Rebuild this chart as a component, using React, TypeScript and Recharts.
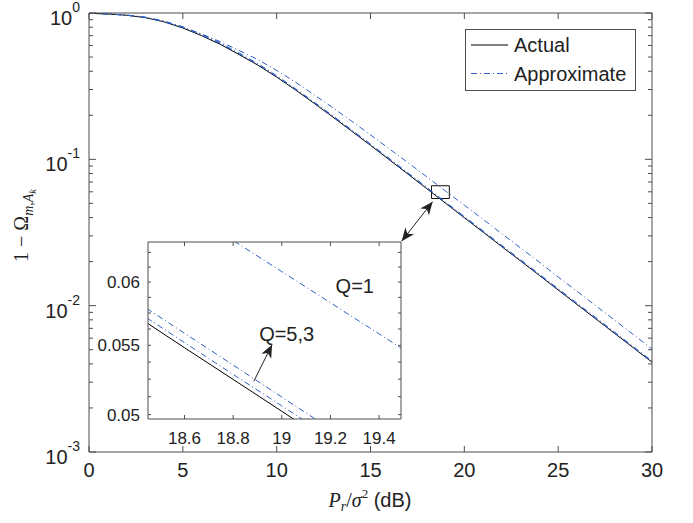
import React from "react";
import {
  LineChart,
  Line,
  XAxis,
  YAxis,
  ReferenceArea,
  ReferenceLine,
  ReferenceDot,
  CartesianGrid,
} from "recharts";

// main plot: P_r/sigma^2 (dB) vs 1 - Omega
const snrDb = [
  0, 1, 2, 3, 4, 5, 6, 7, 8, 9, 10, 11, 12, 13, 14, 15, 16, 17, 18, 19, 20, 21,
  22, 23, 24, 25, 26, 27, 28, 29, 30,
];
const actual = [
  0.995, 0.985, 0.965, 0.93, 0.87, 0.79, 0.7, 0.61, 0.52, 0.44, 0.365, 0.2981,
  0.2412, 0.1943, 0.1557, 0.1246, 0.0994, 0.0792, 0.063, 0.0501, 0.0399, 0.0318,
  0.0253, 0.0202, 0.0161, 0.0128, 0.0102, 0.00813, 0.00648, 0.00516, 0.00411,
];
const approxQ1 = [
  0.996, 0.987, 0.968, 0.935, 0.877, 0.798, 0.718, 0.637, 0.554, 0.48, 0.405,
  0.337, 0.276, 0.225, 0.182, 0.147, 0.118, 0.0949, 0.0759, 0.0607, 0.0486,
  0.0389, 0.031, 0.0248, 0.0198, 0.0157, 0.01255, 0.01, 0.00797, 0.00635, 0.00506,
];
const approxQ3 = [
  0.996, 0.986, 0.968, 0.937, 0.881, 0.806, 0.716, 0.625, 0.533, 0.451, 0.373,
  0.3043, 0.2462, 0.1983, 0.1589, 0.1271, 0.1014, 0.0808, 0.0643, 0.0511, 0.0407,
  0.03244, 0.0258, 0.0206, 0.01642, 0.01306, 0.0104, 0.0083, 0.00661, 0.00526,
  0.00419,
];
const approxQ5 = [
  0.995, 0.985, 0.966, 0.932, 0.874, 0.796, 0.707, 0.617, 0.526, 0.445, 0.369,
  0.3012, 0.2436, 0.1962, 0.1572, 0.1258, 0.1003, 0.0799, 0.0636, 0.0505, 0.0402,
  0.03205, 0.0255, 0.02036, 0.01623, 0.0129, 0.01028, 0.0082, 0.00653, 0.0052,
  0.00414,
];

// zoomed inset
const zoomSnr = [18.4, 18.6, 18.8, 19.0, 19.2, 19.4, 19.6];
const zoomActual = [0.0573, 0.05482, 0.05248, 0.05023, 0.04806, 0.046, 0.044];
const zoomQ5 = [0.05768, 0.05521, 0.05284, 0.05061, 0.04844, 0.04636, 0.04437];
const zoomQ3 = [0.05844, 0.05592, 0.05353, 0.05122, 0.04903, 0.04691, 0.0449];
const zoomQ1 = [0.06926, 0.06633, 0.06353, 0.06087, 0.05832, 0.05587, 0.05352];

const xTicks = [0, 5, 10, 15, 20, 25, 30];
const yDecades = [0.001, 0.01, 0.1, 1];
const yDecadeExp = ["-3", "-2", "-1", "0"];
const yMinor = [
  0.002, 0.003, 0.004, 0.005, 0.006, 0.007, 0.008, 0.009, 0.02, 0.03, 0.04,
  0.05, 0.06, 0.07, 0.08, 0.09, 0.2, 0.3, 0.4, 0.5, 0.6, 0.7, 0.8, 0.9,
];
const zoomXTicks = [18.6, 18.8, 19, 19.2, 19.4];
const zoomYTicks = [
  0.05, 0.05125, 0.0525, 0.05375, 0.055, 0.05625, 0.0575, 0.05875, 0.06,
  0.06125, 0.0625,
];
const zoomYLabels = [0.05, 0.055, 0.06];
const legendLabels = ["Actual", "Approximate"];

const mainData = snrDb.map((x, i) => ({
  x,
  actual: actual[i],
  q1: approxQ1[i],
  q3: approxQ3[i],
  q5: approxQ5[i],
}));
const zoomData = zoomSnr.map((x, i) => ({
  x,
  actual: zoomActual[i],
  q1: zoomQ1[i],
  q3: zoomQ3[i],
  q5: zoomQ5[i],
}));

const SANS = "'Liberation Sans', Arial, Helvetica, sans-serif";
const SERIF = "'Liberation Serif', 'Times New Roman', serif";
const AXIS = "#4d4d4d";
const TEXT = "#222";
const BLUE = "#2f5fc4";
const DASH = "6 3 1 3";

const isIn = (list: number[], v: number) => list.some((t) => Math.abs(t - v) < 1e-9);

function arrowHead(x: number, y: number, fx: number, fy: number, len = 13, half = 5.5) {
  const d = Math.hypot(x - fx, y - fy) || 1;
  const ux = (x - fx) / d;
  const uy = (y - fy) / d;
  const bx = x - ux * len;
  const by = y - uy * len;
  const nx = x - ux * len * 0.72;
  const ny = y - uy * len * 0.72;
  return `${x},${y} ${bx - uy * half},${by + ux * half} ${nx},${ny} ${bx + uy * half},${by - ux * half}`;
}

const DoubleArrow = (p: any) => (
  <g>
    <line x1={p.x1} y1={p.y1} x2={p.x2} y2={p.y2} stroke={TEXT} strokeWidth={1} />
    <polygon points={arrowHead(p.x1, p.y1, p.x2, p.y2)} fill={TEXT} />
    <polygon points={arrowHead(p.x2, p.y2, p.x1, p.y1)} fill={TEXT} />
  </g>
);

const SingleArrow = (p: any) => (
  <g>
    <line x1={p.x1} y1={p.y1} x2={p.x2} y2={p.y2} stroke={TEXT} strokeWidth={1} />
    <polygon points={arrowHead(p.x2, p.y2, p.x1, p.y1)} fill={TEXT} />
  </g>
);

// ---- main axis ticks ----
const MainXTick = (p: any) => (
  <g>
    <line x1={p.x} x2={p.x} y1={p.y} y2={p.y - 6} stroke={AXIS} />
    <text x={p.x} y={p.y + 25} textAnchor="middle" fontSize={20} fontFamily={SANS} fill={TEXT}>
      {p.payload.value}
    </text>
  </g>
);
const MainTopTick = (p: any) => (
  <line x1={p.x} x2={p.x} y1={p.y} y2={p.y + 6} stroke={AXIS} />
);
const MainYTick = (p: any) => {
  const v = p.payload.value;
  const k = yDecades.findIndex((t) => Math.abs(t - v) < 1e-12);
  const len = k >= 0 ? 7 : 4;
  return (
    <g>
      <line x1={p.x} x2={p.x + len} y1={p.y} y2={p.y} stroke={AXIS} />
      {k >= 0 && (
        <text x={p.x - 9} y={p.y + 12} textAnchor="end" fontSize={20} fontFamily={SANS} fill={TEXT}>
          10
          <tspan dy={-13} fontSize={14}>
            {yDecadeExp[k]}
          </tspan>
        </text>
      )}
    </g>
  );
};
const MainRightTick = (p: any) => {
  const major = isIn(yDecades, p.payload.value);
  return <line x1={p.x} x2={p.x - (major ? 7 : 4)} y1={p.y} y2={p.y} stroke={AXIS} />;
};

// ---- inset ticks ----
const ZoomXTick = (p: any) => (
  <g>
    <line x1={p.x} x2={p.x} y1={p.y} y2={p.y - 4} stroke={AXIS} />
    <text x={p.x} y={p.y + 25} textAnchor="middle" fontSize={17} fontFamily={SANS} fill={TEXT}>
      {p.payload.value}
    </text>
  </g>
);
const ZoomTopTick = (p: any) => (
  <line x1={p.x} x2={p.x} y1={p.y} y2={p.y + 4} stroke={AXIS} />
);
const ZoomYTick = (p: any) => {
  const v = p.payload.value;
  return (
    <g>
      <line x1={p.x} x2={p.x + 3} y1={p.y} y2={p.y} stroke={AXIS} />
      {isIn(zoomYLabels, v) && (
        <text x={p.x - 8} y={p.y + 6} textAnchor="end" fontSize={17} fontFamily={SANS} fill={TEXT}>
          {v}
        </text>
      )}
    </g>
  );
};
const ZoomRightTick = (p: any) => (
  <line x1={p.x} x2={p.x - 3} y1={p.y} y2={p.y} stroke={AXIS} />
);

const YTitle = () => (
  <text
    x={28}
    y={262}
    transform="rotate(-90 28 262)"
    textAnchor="start"
    fontFamily={SERIF}
    fontSize={20}
    fill={TEXT}
  >
    1 − Ω
    <tspan fontStyle="italic" fontSize={14} dy={5}>
      m
    </tspan>
    <tspan fontSize={14}>,</tspan>
    <tspan fontStyle="italic" fontSize={14}>
      A
    </tspan>
    <tspan fontStyle="italic" fontSize={10} dy={3}>
      k
    </tspan>
  </text>
);

const XTitle = () => (
  <text x={370} y={507} textAnchor="middle" fontSize={20} fill={TEXT}>
    <tspan fontFamily={SERIF} fontStyle="italic">
      P
    </tspan>
    <tspan fontFamily={SERIF} fontStyle="italic" fontSize={14} dy={4}>
      r
    </tspan>
    <tspan fontFamily={SERIF} dy={-4}>
      /
    </tspan>
    <tspan fontFamily={SERIF} fontStyle="italic">
      σ
    </tspan>
    <tspan fontFamily={SERIF} fontSize={13} dy={-9}>
      2
    </tspan>
    <tspan fontFamily={SANS} dy={9}>
      {" (dB)"}
    </tspan>
  </text>
);

const TextAt = (label: string) => (p: any) => (
  <text x={p.cx} y={p.cy} dy="0.35em" textAnchor="middle" fontSize={20} fontFamily={SANS} fill={TEXT}>
    {label}
  </text>
);

function MainChart() {
  return (
    <LineChart
      width={693}
      height={523}
      data={mainData}
      margin={{ top: 12, right: 40, bottom: 31, left: 29 }}
    >
      <XAxis
        xAxisId="b"
        dataKey="x"
        type="number"
        domain={[0, 30]}
        ticks={xTicks}
        interval={0}
        height={40}
        tickSize={0}
        tickMargin={0}
        tickLine={false}
        axisLine={{ stroke: AXIS }}
        tick={(p: any) => <MainXTick {...p} />}
        label={<XTitle />}
      />
      <XAxis
        xAxisId="t"
        orientation="top"
        dataKey="x"
        type="number"
        domain={[0, 30]}
        ticks={xTicks}
        interval={0}
        height={1}
        tickSize={0}
        tickMargin={0}
        tickLine={false}
        axisLine={{ stroke: AXIS }}
        tick={(p: any) => <MainTopTick {...p} />}
      />
      <YAxis
        yAxisId="l"
        type="number"
        scale="log"
        domain={[0.001, 1]}
        allowDataOverflow
        ticks={[...yDecades, ...yMinor]}
        interval={0}
        width={60}
        tickSize={0}
        tickMargin={0}
        tickLine={false}
        axisLine={{ stroke: AXIS }}
        tick={(p: any) => <MainYTick {...p} />}
        label={<YTitle />}
      />
      <YAxis
        yAxisId="r"
        orientation="right"
        type="number"
        scale="log"
        domain={[0.001, 1]}
        allowDataOverflow
        ticks={[...yDecades, ...yMinor]}
        interval={0}
        width={1}
        tickSize={0}
        tickMargin={0}
        tickLine={false}
        axisLine={{ stroke: AXIS }}
        tick={(p: any) => <MainRightTick {...p} />}
      />
      <Line xAxisId="b" yAxisId="l" dataKey="actual" stroke="#000" strokeWidth={1} dot={false} isAnimationActive={false} />
      <Line xAxisId="b" yAxisId="l" dataKey="q1" stroke={BLUE} strokeWidth={1} strokeDasharray={DASH} dot={false} isAnimationActive={false} />
      <Line xAxisId="b" yAxisId="l" dataKey="q3" stroke={BLUE} strokeWidth={1} strokeDasharray={DASH} dot={false} isAnimationActive={false} />
      <Line xAxisId="b" yAxisId="l" dataKey="q5" stroke={BLUE} strokeWidth={1} strokeDasharray={DASH} dot={false} isAnimationActive={false} />
      <ReferenceArea
        xAxisId="b"
        yAxisId="l"
        x1={18.25}
        x2={19.2}
        y1={0.054}
        y2={0.066}
        fill="none"
        stroke="#111"
        strokeWidth={1}
        ifOverflow="visible"
      />
      <ReferenceLine
        xAxisId="b"
        yAxisId="l"
        segment={[
          { x: 18.31, y: 0.0513 },
          { x: 16.66, y: 0.0276 },
        ]}
        ifOverflow="visible"
        shape={(p: any) => <DoubleArrow {...p} />}
      />
    </LineChart>
  );
}

function ZoomChart() {
  return (
    <LineChart
      width={323}
      height={217}
      data={zoomData}
      margin={{ top: 9, right: 9, bottom: 0, left: 0 }}
    >
      <CartesianGrid xAxisId="b" yAxisId="l" horizontal={false} vertical={false} fill="#fff" />
      <XAxis
        xAxisId="b"
        dataKey="x"
        type="number"
        domain={[18.45, 19.49]}
        allowDataOverflow
        ticks={zoomXTicks}
        interval={0}
        height={30}
        tickSize={0}
        tickMargin={0}
        tickLine={false}
        axisLine={{ stroke: AXIS }}
        tick={(p: any) => <ZoomXTick {...p} />}
      />
      <XAxis
        xAxisId="t"
        orientation="top"
        dataKey="x"
        type="number"
        domain={[18.45, 19.49]}
        allowDataOverflow
        ticks={zoomXTicks}
        interval={0}
        height={1}
        tickSize={0}
        tickMargin={0}
        tickLine={false}
        axisLine={{ stroke: AXIS }}
        tick={(p: any) => <ZoomTopTick {...p} />}
      />
      <YAxis
        yAxisId="l"
        type="number"
        scale="log"
        domain={[0.0497, 0.0634]}
        allowDataOverflow
        ticks={zoomYTicks}
        interval={0}
        width={60}
        tickSize={0}
        tickMargin={0}
        tickLine={false}
        axisLine={{ stroke: AXIS }}
        tick={(p: any) => <ZoomYTick {...p} />}
      />
      <YAxis
        yAxisId="r"
        orientation="right"
        type="number"
        scale="log"
        domain={[0.0497, 0.0634]}
        allowDataOverflow
        ticks={zoomYTicks}
        interval={0}
        width={1}
        tickSize={0}
        tickMargin={0}
        tickLine={false}
        axisLine={{ stroke: AXIS }}
        tick={(p: any) => <ZoomRightTick {...p} />}
      />
      <Line xAxisId="b" yAxisId="l" dataKey="actual" stroke="#000" strokeWidth={1} dot={false} isAnimationActive={false} />
      <Line xAxisId="b" yAxisId="l" dataKey="q5" stroke={BLUE} strokeWidth={1} strokeDasharray={DASH} dot={false} isAnimationActive={false} />
      <Line xAxisId="b" yAxisId="l" dataKey="q3" stroke={BLUE} strokeWidth={1} strokeDasharray={DASH} dot={false} isAnimationActive={false} />
      <Line xAxisId="b" yAxisId="l" dataKey="q1" stroke={BLUE} strokeWidth={1} strokeDasharray={DASH} dot={false} isAnimationActive={false} />
      <ReferenceDot xAxisId="b" yAxisId="l" x={19.3} y={0.05964} r={0} shape={TextAt("Q=1")} />
      <ReferenceDot xAxisId="b" yAxisId="l" x={19.02} y={0.05589} r={0} shape={TextAt("Q=5,3")} />
      <ReferenceLine
        xAxisId="b"
        yAxisId="l"
        segment={[
          { x: 18.885, y: 0.05235 },
          { x: 18.96, y: 0.05505 },
        ]}
        ifOverflow="visible"
        shape={(p: any) => <SingleArrow {...p} />}
      />
    </LineChart>
  );
}

function LegendBox() {
  return (
    <svg width={693} height={523} style={{ position: "absolute", left: 0, top: 0, pointerEvents: "none" }}>
      <rect x={465.5} y={29.5} width={170} height={61} fill="#fff" stroke={AXIS} />
      <line x1={471} x2={508} y1={45} y2={45} stroke="#000" strokeWidth={1} />
      <text x={514} y={52} fontSize={20} fontFamily={SANS} fill={TEXT}>
        {legendLabels[0]}
      </text>
      <line x1={471} x2={508} y1={73.5} y2={73.5} stroke={BLUE} strokeWidth={1} strokeDasharray={DASH} />
      <text x={514} y={80.5} fontSize={20} fontFamily={SANS} fill={TEXT}>
        {legendLabels[1]}
      </text>
    </svg>
  );
}

export default function App() {
  return (
    <div style={{ position: "absolute", left: 0, top: 0, width: 693, height: 523, background: "#fff" }}>
      <MainChart />
      <div style={{ position: "absolute", left: 88, top: 232 }}>
        <ZoomChart />
      </div>
      <LegendBox />
    </div>
  );
}
